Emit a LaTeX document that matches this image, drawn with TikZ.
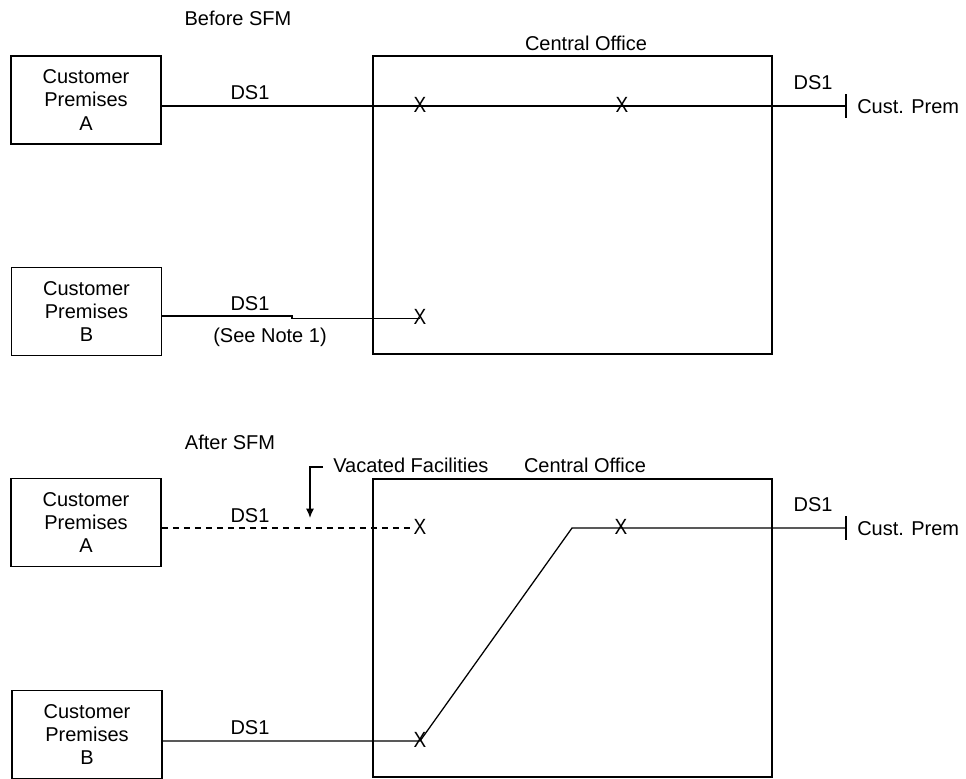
\documentclass[tikz,border=0pt]{standalone}
\usepackage{fontspec}
\usepackage{graphicx}
\setmainfont{Liberation Sans}
\usetikzlibrary{arrows.meta}
\newcommand{\xsym}{\scalebox{0.95}[1.1]{X}}
\begin{document}
\begin{tikzpicture}[x=0.75pt,y=-0.75pt,
  lbl/.style={font=\fontsize{15}{17.6}\selectfont, inner sep=0pt},
  prem/.style={draw, line width=1.3pt, minimum width=112.5pt, minimum height=66pt,
    align=center, font=\fontsize{15}{17.6}\selectfont, inner sep=0pt},
  office/.style={draw, line width=1.3pt, minimum width=299.25pt, minimum height=223.5pt, inner sep=0pt},
  xmark/.style={font=\fontsize{15}{16}\selectfont, inner sep=0pt},
  wire/.style={line width=0.95pt},
  dwire/.style={line width=0.95pt, dash pattern=on 4.5pt off 3.75pt}]
\useasboundingbox[fill=white] (0,0) rectangle (966,778);

% ---------- Before SFM ----------
\node[lbl] (before) at (238,18) {Before SFM};
\node[lbl] (co1) at (586,43) {Central Office};
\node[office] (off1) at (572.5,205) {};
\node[prem] (pa1) at (86,100) {Customer\\Premises\\A};
\node[prem] (pb1) at (86.5,311.5) {Customer\\Premises\\B};

\node[xmark] (xa1) at (420,105) {\xsym};
\node[xmark] (xc1) at (622,105) {\xsym};
\node[xmark] (xb1) at (420,317) {\xsym};
\coordinate (t1) at (846,106);
\coordinate (sb1) at (292,316);

\draw[wire] (pa1.east |- t1) -- (xa1.center |- t1) -- (xc1.center |- t1) -- (t1);
\draw[wire] (t1) ++(0,-12) -- ++(0,24);
\draw[wire] (pb1.east |- sb1) -- (sb1) |- ([yshift=-1]xb1.center);

\node[lbl] (ds1a) at (250,93) {DS1};
\node[lbl] (ds1r) at (813,83) {DS1};
\node[lbl, anchor=west] (cp1) at (857,107) {Cust. Prem};
\node[lbl] (ds1b) at (250,304) {DS1};
\node[lbl] (note) at (270,337) {(See Note 1)};

% ---------- After SFM ----------
\node[lbl] (after) at (230,442) {After SFM};
\node[lbl, anchor=west] (vac) at (333,465) {Vacated Facilities};
\node[lbl] (co2) at (585,465) {Central Office};
\node[office] (off2) at (572.5,628) {};
\node[prem] (pa2) at (86,522.5) {Customer\\Premises\\A};
\node[prem] (pb2) at (87,734.5) {Customer\\Premises\\B};

\node[xmark] (xa2) at (420,527) {\xsym};
\node[xmark] (xc2) at (621,527) {\xsym};
\node[xmark] (xb2) at (420,740) {\xsym};
\coordinate (bend) at (572,528);
\coordinate (t2) at (846,528);

\draw[dwire] (pa2.east |- t2) -- (xa2.west |- t2);
\draw[wire] (pb2.east |- 0,741) -- (xb2.center |- 0,741) -- (bend) -- (xc2.center |- t2) -- (t2);
\draw[wire] (t2) ++(0,-12) -- ++(0,24);

\coordinate (v1) at (323,467);
\coordinate (v2) at (310,467);
\coordinate (v3) at (310,518);
\draw[wire, -{Latex[length=7pt,width=6pt]}] (v1) -- (v2) -- (v3);

\node[lbl] (ds2a) at (250,516) {DS1};
\node[lbl] (ds2r) at (813,505) {DS1};
\node[lbl, anchor=west] (cp2) at (857,529) {Cust. Prem};
\node[lbl] (ds2b) at (250,728) {DS1};
\end{tikzpicture}
\end{document}
